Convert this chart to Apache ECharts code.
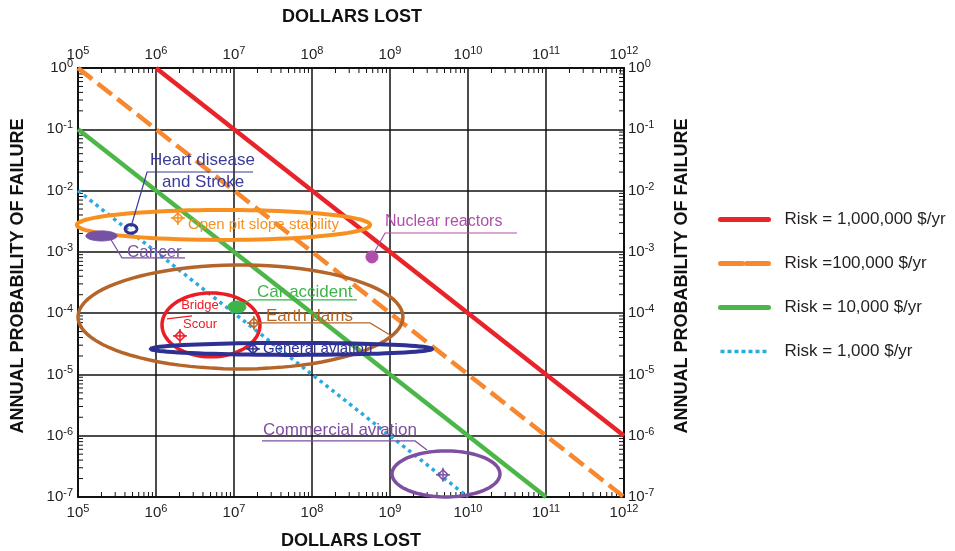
<!DOCTYPE html>
<html>
<head>
<meta charset="utf-8">
<script src="https://cdn.jsdelivr.net/npm/echarts@6/dist/echarts.min.js"></script>
<style>
  html, body { margin: 0; padding: 0; background: #fff; }
  #chart { width: 955px; height: 551px; }
</style>
</head>
<body>
<div id="chart"></div>
<script>
// iso-risk lines (dollars lost x annual probability = const)
const riskNames = ['Risk = 1,000,000 $/yr', 'Risk =100,000 $/yr', 'Risk = 10,000 $/yr', 'Risk = 1,000 $/yr'];
const riskDollars = [[1e6, 1e12], [1e5, 1e12], [1e5, 1e11], [1e5, 1e10]];
const riskProb = [[1, 1e-6], [1, 1e-7], [1e-1, 1e-7], [1e-2, 1e-7]];

// hazard zones: centre and spread (in decades)
const hazardNames = ['Open pit slope stability', 'Heart disease and Stroke', 'Cancer', 'Nuclear reactors',
  'Earth dams', 'Bridge Scour', 'Car accident', 'General aviation', 'Commercial aviation'];
const hazardDollars = [7.33e6, 4.78e5, 2.0e5, 5.87e8, 1.21e7, 5.07e6, 1.09e7, 5.46e7, 5.22e9];
const hazardProb = [2.75e-3, 2.37e-3, 1.82e-3, 8.26e-4, 8.67e-5, 6.43e-5, 1.26e-4, 2.61e-5, 2.38e-7];
const spreadDollarDec = [1.88, 0.075, 0.2, 0.077, 2.083, 0.628, 0.115, 1.80, 0.692];
const spreadProbDec = [0.245, 0.07, 0.082, 0.098, 0.848, 0.522, 0.098, 0.098, 0.375];

// point estimates (diamond markers)
const markDollars = [1.91e6, 1.8e7, 2.03e6, 1.75e7, 4.78e9];
const markProb = [3.57e-3, 6.9e-5, 4.25e-5, 2.61e-5, 2.3e-7];

// ---- styles / layout ----
const riskColors = ['#e8232a', '#f7882f', '#4cb748', '#29aae1'];
const riskDash = ['solid', [18, 7], 'solid', [3.5, 4]];
const legendDash = ['solid', [22, 4], 'solid', [4, 3]];
const hazardStyle = [
  { color: '#f7901e', width: 4, fill: false },
  { color: '#2e3192', width: 3, fill: false },
  { color: '#7652a4', width: 1, fill: true },
  { color: '#b04fab', width: 1, fill: true },
  { color: '#b5652a', width: 3.5, fill: false },
  { color: '#ec1c24', width: 3.5, fill: false },
  { color: '#3cb44a', width: 1, fill: true },
  { color: '#2e3192', width: 4, fill: false },
  { color: '#7e4fa1', width: 3.5, fill: false }
];
const markColors = ['#f7901e', '#b5652a', '#ec1c24', '#2e3192', '#7e4fa1'];

// label layout in log10 units [x, y]
const labelLayout = [
  { text: 'Heart disease', at: [5.923, -1.50], color: '#3b3b9a', size: 17, align: 'left' },
  { text: 'and Stroke', at: [6.077, -1.86], color: '#3b3b9a', size: 17, align: 'left' },
  { text: 'Open pit slope stability', at: [6.41, -2.561], color: '#f7901e', size: 15, align: 'left' },
  { text: 'Cancer', at: [5.628, -3.0], color: '#7652a4', size: 17, align: 'left' },
  { text: 'Nuclear reactors', at: [8.936, -2.512], color: '#b04fab', size: 16, align: 'left' },
  { text: 'Car accident', at: [7.295, -3.654], color: '#3cb44a', size: 17, align: 'left' },
  { text: 'Earth dams', at: [7.41, -4.046], color: '#b5652a', size: 17, align: 'left' },
  { text: 'Bridge', at: [6.564, -3.866], color: '#ec1c24', size: 13, align: 'center' },
  { text: 'Scour', at: [6.564, -4.192], color: '#ec1c24', size: 13, align: 'center' },
  { text: 'General aviation', at: [7.372, -4.584], color: '#2e3192', size: 15, align: 'left' },
  { text: 'Commercial aviation', at: [7.372, -5.905], color: '#7e4fa1', size: 17, align: 'left' }
];
const leaderLayout = [
  { color: '#3b3b9a', pts: [[7.244, -1.697], [5.885, -1.697], [5.679, -2.594]] },
  { color: '#7652a4', pts: [[5.41, -2.773], [5.564, -3.099], [6.372, -3.099]] },
  { color: '#b04fab', pts: [[10.628, -2.692], [8.936, -2.692], [8.808, -2.985]] },
  { color: '#3cb44a', pts: [[8.577, -3.785], [7.205, -3.785], [7.115, -3.85]] },
  { color: '#b5652a', pts: [[7.256, -4.16], [8.744, -4.16], [9.0, -4.356]] },
  { color: '#ec1c24', pts: [[6.141, -4.095], [6.462, -4.046]] },
  { color: '#7e4fa1', pts: [[7.359, -6.085], [9.321, -6.085], [9.474, -6.232]] }
];

const FONT = '"Liberation Sans", Arial, sans-serif';
const pow10 = v => Math.pow(10, v);

const chart = echarts.init(document.getElementById('chart'));

function expLabel(v) {
  const e = Math.round(Math.log10(v));
  return '{b|10}{s|' + e + '}';
}
const labelRich = {
  b: { fontSize: 15, fontFamily: FONT, color: '#222', lineHeight: 19 },
  s: { fontSize: 11, fontFamily: FONT, color: '#222', lineHeight: 11, verticalAlign: 'top' }
};

function logAxis(pos, min, max, showSplit, margin) {
  return {
    type: 'log', logBase: 10, position: pos, min: min, max: max, splitNumber: 7,
    axisLine: { show: true, onZero: false, lineStyle: { color: '#111', width: 2 } },
    axisTick: { show: false },
    splitLine: { show: showSplit, lineStyle: { color: '#111', width: 1.5 } },
    axisLabel: { formatter: expLabel, rich: labelRich, margin: margin, showMinLabel: true, showMaxLabel: true, hideOverlap: false }
  };
}

const riskSeries = riskNames.map((name, i) => ({
  name: name,
  type: 'line',
  xAxisIndex: 0, yAxisIndex: 0,
  symbol: 'none',
  silent: true,
  z: 3,
  data: riskDollars[i].map((d, k) => [d, riskProb[i][k]]),
  lineStyle: { color: riskColors[i], width: i === 3 ? 3.5 : 4.5, type: riskDash[i], cap: 'butt' },
  itemStyle: { color: riskColors[i] }
}));

const ellipseSeries = {
  type: 'custom',
  name: 'zones',
  silent: true,
  z: 4,
  dimensions: ['x', 'y', 'rx', 'ry'],
  encode: { x: 0, y: 1 },
  data: hazardNames.map((n, i) => [hazardDollars[i], hazardProb[i], spreadDollarDec[i], spreadProbDec[i]]),
  renderItem: function (params, api) {
    const st = hazardStyle[params.dataIndex];
    const lx = Math.log10(api.value(0)), ly = Math.log10(api.value(1));
    const rx = api.value(2), ry = api.value(3);
    const pts = [];
    for (let k = 0; k < 90; k++) {
      const t = k / 90 * Math.PI * 2;
      pts.push(api.coord([pow10(lx + rx * Math.cos(t)), pow10(ly + ry * Math.sin(t))]));
    }
    return {
      type: 'polygon',
      shape: { points: pts },
      style: { fill: st.fill ? st.color : 'none', stroke: st.color, lineWidth: st.width }
    };
  }
};

const markerSeries = {
  type: 'custom',
  name: 'marks',
  silent: true,
  z: 6,
  encode: { x: 0, y: 1 },
  data: markDollars.map((d, i) => [d, markProb[i]]),
  renderItem: function (params, api) {
    const p = api.coord([api.value(0), api.value(1)]);
    const c = markColors[params.dataIndex];
    const r = 5;
    return {
      type: 'group',
      children: [
        { type: 'polygon', shape: { points: [[p[0], p[1] - r], [p[0] + r, p[1]], [p[0], p[1] + r], [p[0] - r, p[1]]] },
          style: { fill: 'none', stroke: c, lineWidth: 1.5 } },
        { type: 'line', shape: { x1: p[0] - r - 2, y1: p[1], x2: p[0] + r + 2, y2: p[1] }, style: { stroke: c, lineWidth: 1.5 } },
        { type: 'line', shape: { x1: p[0], y1: p[1] - r - 2, x2: p[0], y2: p[1] + r + 2 }, style: { stroke: c, lineWidth: 1.5 } }
      ]
    };
  }
};

const labelSeries = {
  type: 'custom',
  name: 'labels',
  silent: true,
  z: 7,
  encode: { x: 0, y: 1 },
  data: labelLayout.map(l => [pow10(l.at[0]), pow10(l.at[1])]),
  renderItem: function (params, api) {
    const l = labelLayout[params.dataIndex];
    const p = api.coord([api.value(0), api.value(1)]);
    return {
      type: 'text',
      x: p[0], y: p[1],
      style: { text: l.text, fill: l.color, font: l.size + 'px ' + FONT, align: l.align, verticalAlign: 'middle' }
    };
  }
};

const leaderSeries = {
  type: 'custom',
  name: 'leaders',
  silent: true,
  z: 7,
  encode: { x: 0, y: 1 },
  data: leaderLayout.map(l => [pow10(l.pts[0][0]), pow10(l.pts[0][1])]),
  renderItem: function (params, api) {
    const l = leaderLayout[params.dataIndex];
    const pts = l.pts.map(q => api.coord([pow10(q[0]), pow10(q[1])]));
    return { type: 'polyline', shape: { points: pts }, style: { stroke: l.color, lineWidth: 1.2, fill: 'none' } };
  }
};

// logarithmic minor ticks on the four frame sides
const minorTickSeries = {
  type: 'custom',
  name: 'minor',
  silent: true,
  z: 2,
  encode: { x: 0, y: 1 },
  data: [[1e5, 1e-7]],
  renderItem: function (params, api) {
    const ch = [];
    const len = 5;
    const st = { stroke: '#111', lineWidth: 1 };
    for (let e = 5; e < 12; e++) {
      for (let m = 2; m <= 9; m++) {
        const v = m * pow10(e);
        const b = api.coord([v, 1e-7]), t = api.coord([v, 1]);
        ch.push({ type: 'line', shape: { x1: b[0], y1: b[1], x2: b[0], y2: b[1] - len }, style: st });
        ch.push({ type: 'line', shape: { x1: t[0], y1: t[1], x2: t[0], y2: t[1] + len }, style: st });
      }
    }
    for (let e = -7; e < 0; e++) {
      for (let m = 2; m <= 9; m++) {
        const v = m * pow10(e);
        const l = api.coord([1e5, v]), r = api.coord([1e12, v]);
        ch.push({ type: 'line', shape: { x1: l[0], y1: l[1], x2: l[0] + len, y2: l[1] }, style: st });
        ch.push({ type: 'line', shape: { x1: r[0], y1: r[1], x2: r[0] - len, y2: r[1] }, style: st });
      }
    }
    return { type: 'group', children: ch };
  }
};

const option = {
  backgroundColor: '#fff',
  animation: false,
  textStyle: { fontFamily: FONT },
  grid: { left: 78, right: 331, top: 68, bottom: 54, containLabel: false },
  xAxis: [
    logAxis('bottom', 1e5, 1e12, true, 6),
    logAxis('top', 1e5, 1e12, false, 4)
  ],
  yAxis: [
    logAxis('left', 1e-7, 1, true, 5),
    logAxis('right', 1e-7, 1, false, 4)
  ],
  legend: {
    orient: 'vertical',
    left: 713, top: 206,
    itemWidth: 48, itemHeight: 14, itemGap: 27,
    data: riskNames.map((n, i) => ({
      name: n,
      itemStyle: { opacity: 0 },
      lineStyle: { color: riskColors[i], width: i === 3 ? 3.5 : 5, type: legendDash[i], cap: i === 3 ? 'butt' : 'round' }
    })),
    textStyle: { fontSize: 17, fontFamily: FONT, color: '#231f20', padding: [0, 0, 0, 11] }
  },
  graphic: [
    { type: 'text', x: 352, y: 17, style: { text: 'DOLLARS LOST', font: 'bold 18px ' + FONT, fill: '#111', align: 'center', verticalAlign: 'middle' } },
    { type: 'text', x: 351, y: 541, style: { text: 'DOLLARS LOST', font: 'bold 18px ' + FONT, fill: '#111', align: 'center', verticalAlign: 'middle' } },
    { type: 'text', x: 18, y: 276, rotation: Math.PI / 2, style: { text: 'ANNUAL PROBABILITY OF FAILURE', font: 'bold 18px ' + FONT, fill: '#111', align: 'center', verticalAlign: 'middle' } },
    { type: 'text', x: 682, y: 276, rotation: Math.PI / 2, style: { text: 'ANNUAL PROBABILITY OF FAILURE', font: 'bold 18px ' + FONT, fill: '#111', align: 'center', verticalAlign: 'middle' } }
  ],
  series: riskSeries.concat([minorTickSeries, ellipseSeries, markerSeries, leaderSeries, labelSeries])
};

chart.setOption(option);
</script>
</body>
</html>
